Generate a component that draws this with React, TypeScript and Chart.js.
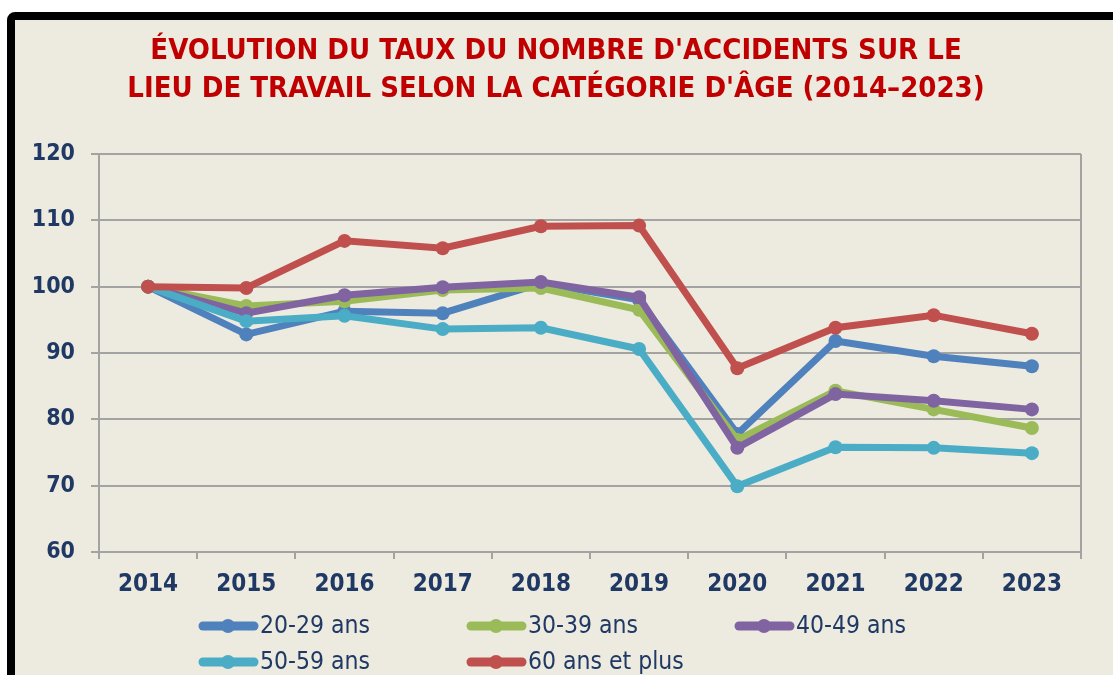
import React, { useEffect, useRef } from "react";
import { Chart, registerables } from "chart.js";

Chart.register(...registerables);

const YEARS = ["2014", "2015", "2016", "2017", "2018", "2019", "2020", "2021", "2022", "2023"];
const SERIES_LABELS = ["20-29 ans", "30-39 ans", "40-49 ans", "50-59 ans", "60 ans et plus"];
const AGE_20_29 = [100, 92.8, 96.3, 96.0, 100.5, 98.0, 77.8, 91.8, 89.5, 88.0];
const AGE_30_39 = [100, 97.1, 97.8, 99.5, 99.8, 96.5, 76.9, 84.3, 81.5, 78.7];
const AGE_40_49 = [100, 96.0, 98.7, 99.9, 100.7, 98.4, 75.7, 83.8, 82.8, 81.5];
const AGE_50_59 = [100, 94.8, 95.6, 93.6, 93.8, 90.6, 69.9, 75.8, 75.7, 74.9];
const AGE_60_PLUS = [100, 99.8, 106.9, 105.8, 109.1, 109.2, 87.7, 93.8, 95.7, 92.9];
const SERIES_VALUES = [AGE_20_29, AGE_30_39, AGE_40_49, AGE_50_59, AGE_60_PLUS];
const COLORS = ["#4F81BD", "#9BBB59", "#8064A2", "#4BACC6", "#C0504D"];
const TITLE_LINES = [
  "ÉVOLUTION DU TAUX DU NOMBRE D'ACCIDENTS SUR LE",
  "LIEU DE TRAVAIL SELON LA CATÉGORIE D'ÂGE (2014–2023)",
];
const Y_MIN = 60;
const Y_MAX = 120;
const Y_STEP = 10;

const FONT = "'DejaVu Sans Condensed', 'Liberation Sans Narrow', 'DejaVu Sans', sans-serif";
const NAVY = "#1F3864";
const GRID = "#A3A3A3";
const BG = "#EDEBE0";

const rightBorderPlugin = {
  id: "rightBorder",
  beforeDatasetsDraw(chart: any) {
    const { ctx, chartArea } = chart;
    ctx.save();
    ctx.strokeStyle = GRID;
    ctx.lineWidth = 2;
    ctx.beginPath();
    ctx.moveTo(chartArea.right, chartArea.top);
    ctx.lineTo(chartArea.right, chartArea.bottom);
    ctx.stroke();
    ctx.restore();
  },
};

const gridLegendPlugin = {
  id: "gridLegend",
  afterDraw(chart: any) {
    const { ctx } = chart;
    const startX = 199;
    const startY = 626;
    const colW = 268;
    const rowH = 36;
    ctx.save();
    chart.data.datasets.forEach((ds: any, i: number) => {
      const col = i % 3;
      const row = Math.floor(i / 3);
      const x = startX + col * colW;
      const y = startY + row * rowH;
      ctx.strokeStyle = ds.borderColor;
      ctx.lineWidth = 9;
      ctx.lineCap = "round";
      ctx.beginPath();
      ctx.moveTo(x + 4, y);
      ctx.lineTo(x + 55, y);
      ctx.stroke();
      ctx.fillStyle = ds.borderColor;
      ctx.beginPath();
      ctx.arc(x + 29, y, 7, 0, Math.PI * 2);
      ctx.fill();
      ctx.fillStyle = NAVY;
      ctx.font = `24.5px ${FONT}`;
      ctx.textBaseline = "middle";
      ctx.textAlign = "left";
      ctx.fillText(ds.label, x + 61, y + 1);
    });
    ctx.restore();
  },
};

export default function App() {
  const canvasRef = useRef<HTMLCanvasElement | null>(null);

  useEffect(() => {
    document.body.style.margin = "0";
    document.body.style.overflow = "hidden";
    if (!canvasRef.current) return;
    const chart = new Chart(canvasRef.current, {
      type: "line",
      data: {
        labels: YEARS,
        datasets: SERIES_LABELS.map((label, i) => ({
          label,
          data: SERIES_VALUES[i],
          borderColor: COLORS[i],
          backgroundColor: COLORS[i],
          pointBackgroundColor: COLORS[i],
          pointBorderWidth: 0,
          pointRadius: 7,
          borderWidth: 7,
          tension: 0,
          order: SERIES_LABELS.length - i,
        })),
      },
      options: {
        animation: false,
        responsive: false,
        maintainAspectRatio: false,
        layout: { padding: { left: 31, right: 32, top: 0, bottom: 73 } },
        plugins: {
          legend: { display: false },
          tooltip: { enabled: false },
          title: {
            display: true,
            text: TITLE_LINES,
            color: "#C00000",
            font: { family: FONT, size: 29, weight: "bold", lineHeight: 1.31 },
            padding: { top: 32, bottom: 46 },
          },
        },
        scales: {
          x: {
            offset: true,
            afterFit(scale: any) {
              scale.height = 50;
            },
            grid: {
              offset: true,
              drawOnChartArea: false,
              color: GRID,
              lineWidth: 2,
              tickLength: 7,
            },
            border: { display: true, color: GRID, width: 2 },
            ticks: {
              color: NAVY,
              font: { family: FONT, size: 24, weight: "bold" },
              padding: 11,
              maxRotation: 0,
            },
          },
          y: {
            min: Y_MIN,
            max: Y_MAX,
            afterFit(scale: any) {
              scale.width = 68;
            },
            grid: { color: GRID, lineWidth: 2, tickLength: 8 },
            border: { display: true, color: GRID, width: 2 },
            ticks: {
              stepSize: Y_STEP,
              color: NAVY,
              font: { family: FONT, size: 23, weight: "bold" },
              padding: 16,
            },
          },
        },
      },
      plugins: [rightBorderPlugin, gridLegendPlugin],
    });
    return () => chart.destroy();
  }, []);

  return (
    <div style={{ position: "fixed", left: 0, top: 0, width: 1113, height: 675, overflow: "hidden" }}>
      <div
        style={{
          position: "absolute",
          left: 7,
          top: 12,
          width: 1200,
          height: 800,
          border: "8px solid #000",
          borderRadius: 8,
          background: BG,
          boxSizing: "border-box",
        }}
      />
      <canvas
        ref={canvasRef}
        width={1113}
        height={675}
        style={{ position: "absolute", left: 0, top: 0, width: 1113, height: 675 }}
      />
    </div>
  );
}
